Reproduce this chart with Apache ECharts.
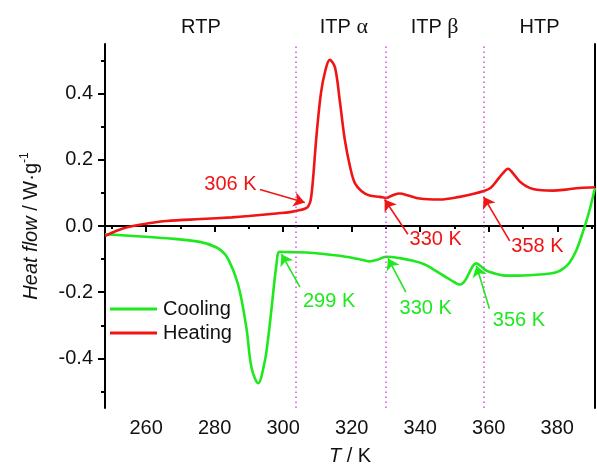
<!DOCTYPE html>
<html>
<head>
<meta charset="utf-8">
<script src="https://cdn.jsdelivr.net/npm/echarts@6/dist/echarts.min.js"></script>
<style>
  html, body { margin: 0; padding: 0; background: #fff; }
  #chart { width: 597px; height: 471px; }
</style>
</head>
<body>
<div id="chart"></div>
<script>
// DSC traces (T in K, heat flow in W/g)
const heatT = [248, 251.2, 253, 256.2, 260, 266, 276, 285, 290, 298, 302, 305, 307, 307.8, 308.2, 308.7, 309.7, 311, 312.3, 313.6, 315.1, 316.5, 318, 319.5, 320.9, 322.9, 325.2, 328.2, 330.1, 332, 334, 336.5, 339.8, 345.7, 351.5, 355, 358.3, 360.5, 362.2, 364, 365.6, 367, 369, 371, 372.9, 375.5, 378.7, 382.5, 386.5, 391]
const heatV = [-0.03, -0.015, -0.008, 0.0, 0.007, 0.015, 0.021, 0.026, 0.03, 0.038, 0.042, 0.048, 0.056, 0.07, 0.09, 0.14, 0.27, 0.40, 0.47, 0.502, 0.48, 0.38, 0.26, 0.18, 0.13, 0.105, 0.092, 0.088, 0.085, 0.093, 0.098, 0.092, 0.083, 0.08, 0.088, 0.096, 0.105, 0.115, 0.135, 0.158, 0.173, 0.16, 0.135, 0.12, 0.112, 0.108, 0.107, 0.11, 0.115, 0.117]

const coolT = [248, 256.2, 266, 275.7, 280.6, 283, 284.4, 286, 287.4, 289.3, 290.8, 292.7, 294.6, 295.6, 296.6, 298, 299, 302, 306.8, 316.5, 322, 325.3, 327.2, 330.1, 334, 337.9, 341, 343.7, 347.6, 350, 351.5, 352.5, 353.4, 355.4, 356.4, 357.5, 359.3, 362, 365.1, 369, 372.9, 376, 379.7, 381.8, 383.6, 385.5, 387.4, 389.2, 391]
const coolV = [-0.025, -0.03, -0.037, -0.048, -0.065, -0.085, -0.11, -0.15, -0.2, -0.31, -0.43, -0.475, -0.41, -0.34, -0.25, -0.12, -0.078, -0.079, -0.08, -0.09, -0.1, -0.107, -0.103, -0.093, -0.097, -0.105, -0.115, -0.13, -0.155, -0.17, -0.177, -0.172, -0.16, -0.12, -0.113, -0.12, -0.135, -0.144, -0.15, -0.15, -0.148, -0.146, -0.14, -0.128, -0.11, -0.075, -0.02, 0.04, 0.115]

// axis ticks
const xMajor = [260, 280, 300, 320, 340, 360, 380]
const xMinor = [250, 270, 290, 310, 330, 350, 370, 390]
const yMajor = [-0.4, -0.2, 0.0, 0.2, 0.4]
const yMinor = [-0.5, -0.3, -0.1, 0.1, 0.3, 0.5]

// phase boundaries and labels
const boundaries = [303.6, 330, 358.5]
const phaseNames = ['RTP', 'ITP {g|α}', 'ITP {g|β}', 'HTP']
const phaseCenters = [276, 317.7, 344.2, 374.8]

// annotations: text, text position, arrow tail, arrow head
const heatNotes = [
  { text: '306 K', at: [284.6, 0.125], from: [293.2, 0.110], to: [306.3, 0.071] },
  { text: '330 K', at: [344.5, -0.042], from: [336.4, -0.025], to: [329.6, 0.080] },
  { text: '358 K', at: [374.2, -0.062], from: [366.1, -0.045], to: [358.5, 0.088] }
]
const coolNotes = [
  { text: '299 K', at: [313.4, -0.228], from: [304.9, -0.185], to: [299.5, -0.085] },
  { text: '330 K', at: [341.6, -0.248], from: [335.8, -0.200], to: [330.6, -0.098] },
  { text: '356 K', at: [368.8, -0.285], from: [360.2, -0.250], to: [356.4, -0.120] }
]

const RED = '#f01414'
const GREEN = '#1ee81e'
const FONT = 'Liberation Sans, Arial, sans-serif'

const zip = (a, b) => a.map((v, i) => [v, b[i]])

const arrowLines = (notes, color) => notes.map(n => [
  { coord: n.from, lineStyle: { color, width: 1.6, type: 'solid' }, itemStyle: { color } },
  { coord: n.to }
])
const notePoints = notes => notes.map(n => ({ coord: n.at, name: n.text }))

const chart = echarts.init(document.getElementById('chart'))

const baseX = { type: 'value', min: 248, max: 391, splitLine: { show: false } }
const baseY = { type: 'value', min: -0.55, max: 0.55, splitLine: { show: false } }

const option = {
  animation: false,
  textStyle: { fontFamily: FONT },
  grid: { left: 105, right: 2, top: 44, bottom: 61 },
  legend: {
    data: ['Cooling', 'Heating'],
    orient: 'vertical',
    left: 110,
    top: 299,
    padding: 0,
    icon: 'rect',
    itemWidth: 47,
    itemHeight: 3,
    itemGap: 4,
    textStyle: { fontSize: 20, color: '#111', fontFamily: FONT, padding: [0, 0, 0, 1] }
  },
  xAxis: [
    Object.assign({}, baseX, {
      position: 'bottom',
      name: '{i|T} / K',
      nameLocation: 'middle',
      nameGap: 38,
      nameTextStyle: { fontSize: 20, color: '#111', rich: { i: { fontStyle: 'italic', fontSize: 20 } } },
      axisLine: { lineStyle: { color: '#000', width: 2 } },
      axisTick: { customValues: xMajor, length: 6, lineStyle: { color: '#000', width: 2 } },
      axisLabel: { customValues: xMajor, fontSize: 20, color: '#111', margin: 10 }
    }),
    Object.assign({}, baseX, {
      position: 'bottom',
      axisLine: { show: false },
      axisTick: { customValues: xMinor, length: 3, lineStyle: { color: '#000', width: 2 } },
      axisLabel: { show: false }
    }),
    Object.assign({}, baseX, {
      position: 'top',
      axisLine: { lineStyle: { color: '#000', width: 2 } },
      axisTick: { show: false },
      axisLabel: { show: false }
    })
  ],
  yAxis: [
    Object.assign({}, baseY, {
      position: 'left',
      name: '{i|Heat flow} / W·g{s|-1}',
      nameLocation: 'middle',
      nameGap: 62,
      nameTextStyle: {
        fontSize: 20, color: '#111',
        rich: { i: { fontStyle: 'italic', fontSize: 20 }, s: { fontSize: 12, padding: [0, 0, 12, 0] } }
      },
      axisLine: { lineStyle: { color: '#000', width: 2 } },
      axisTick: { customValues: yMajor, length: 7, lineStyle: { color: '#000', width: 2 } },
      axisLabel: { customValues: yMajor, fontSize: 20, color: '#111', margin: 12, formatter: v => v.toFixed(1) }
    }),
    Object.assign({}, baseY, {
      position: 'left',
      axisLine: { show: false },
      axisTick: { customValues: yMinor, length: 4, lineStyle: { color: '#000', width: 2 } },
      axisLabel: { show: false }
    }),
    Object.assign({}, baseY, {
      position: 'right',
      axisLine: { lineStyle: { color: '#000', width: 2 } },
      axisTick: { show: false },
      axisLabel: { show: false }
    })
  ],
  series: [
    {
      name: 'Cooling',
      type: 'line',
      data: zip(coolT, coolV),
      symbol: 'none',
      smooth: 0.35,
      z: 3,
      lineStyle: { color: GREEN, width: 2.6 },
      itemStyle: { color: GREEN },
      // dotted phase boundaries
      markLine: {
        silent: true,
        symbol: ['none', 'none'],
        label: { show: false },
        lineStyle: { color: '#d24fe0', width: 1.5, type: [1.5, 3.5] },
        data: boundaries.map(b => ({ xAxis: b }))
      },
      markPoint: {
        silent: true,
        symbol: 'circle',
        symbolSize: 1,
        itemStyle: { color: 'rgba(0,0,0,0)' },
        label: { show: true, position: 'inside', formatter: '{b}', color: GREEN, fontSize: 20, fontFamily: FONT },
        data: notePoints(coolNotes)
      }
    },
    {
      name: 'Heating',
      type: 'line',
      data: zip(heatT, heatV),
      symbol: 'none',
      smooth: 0.35,
      z: 3,
      lineStyle: { color: RED, width: 2.6 },
      itemStyle: { color: RED },
      // annotation arrows for both traces
      markLine: {
        silent: true,
        symbol: ['none', 'arrow'],
        symbolSize: 11,
        label: { show: false },
        data: arrowLines(heatNotes, RED).concat(arrowLines(coolNotes, GREEN))
      },
      markPoint: {
        silent: true,
        symbol: 'circle',
        symbolSize: 1,
        itemStyle: { color: 'rgba(0,0,0,0)' },
        label: { show: true, position: 'inside', formatter: '{b}', color: RED, fontSize: 20, fontFamily: FONT },
        data: notePoints(heatNotes)
      }
    }
  ]
}

chart.setOption(option)

// phase names above the frame, centred on their temperature ranges
chart.setOption({
  graphic: phaseNames.map((name, i) => ({
    type: 'text',
    x: chart.convertToPixel({ xAxisIndex: 0 }, phaseCenters[i]),
    y: 27,
    style: {
      text: name,
      fontSize: 20,
      fontFamily: FONT,
      fill: '#111',
      align: 'center',
      verticalAlign: 'middle',
      rich: { g: { fontFamily: 'Liberation Serif, serif', fontSize: 22, fill: '#111' } }
    }
  }))
})
</script>
</body>
</html>
